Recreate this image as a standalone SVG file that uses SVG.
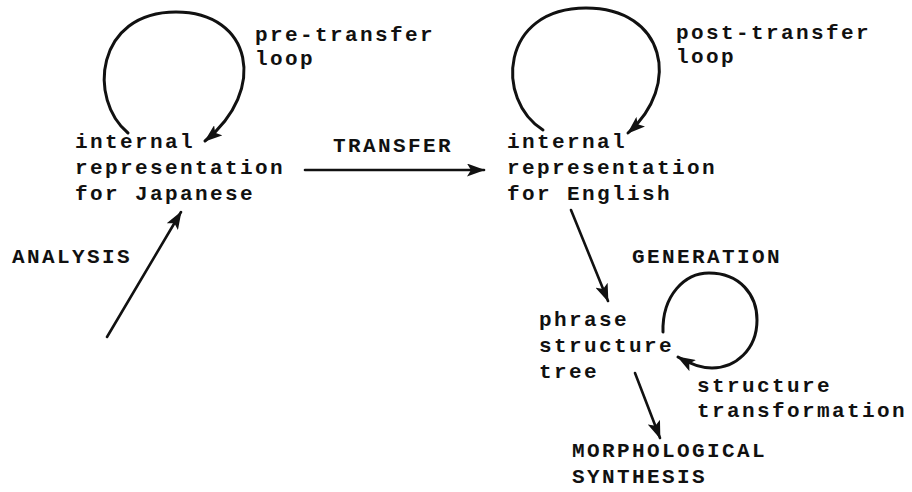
<svg xmlns="http://www.w3.org/2000/svg" width="912" height="492" viewBox="0 0 912 492">
  <style>
    text { font-family: "Liberation Mono", "DejaVu Sans Mono", monospace; font-weight: bold; font-size: 21px; letter-spacing: 2.4px; fill: #111; }
    .edge { fill: none; stroke: #111; stroke-width: 2.6; stroke-linecap: round; }
    .loop { stroke-width: 3; }
  </style>
  <defs>
    <marker id="head" markerUnits="userSpaceOnUse" viewBox="0 0 18 13" markerWidth="18" markerHeight="13" refX="17" refY="6.5" orient="auto">
      <path d="M0,0 L18,6.5 L0,13 L4,6.5 z" fill="#111"/>
    </marker>
  </defs>

  <rect width="912" height="492" fill="#fff"/>

  <!-- connectors -->
  <g id="connectors">
    <!-- pre-transfer loop on the Japanese representation -->
    <path class="edge loop" d="M128,133 C88,100 95,12 176,12 C252,12 268,90 205,141" marker-end="url(#head)"/>
    <!-- post-transfer loop on the English representation -->
    <path class="edge loop" d="M543,130 C495,100 500,8 586,8 C665,8 682,85 628,133" marker-end="url(#head)"/>
    <!-- transfer -->
    <path class="edge" d="M305,170 L484,170" marker-end="url(#head)"/>
    <!-- analysis -->
    <path class="edge" d="M107,337 L181,212" marker-end="url(#head)"/>
    <!-- generation: English representation to phrase structure tree -->
    <path class="edge" d="M571,210 L608,301" marker-end="url(#head)"/>
    <!-- structure transformation loop -->
    <path class="edge loop" d="M663,332 C662,295 685,273 709,273 C740,273 757,295 757,320 C757,350 735,368 712,368 C700,368 690,364 678,357" marker-end="url(#head)"/>
    <!-- morphological synthesis -->
    <path class="edge" d="M635,373 L660,438" marker-end="url(#head)"/>
  </g>

  <!-- nodes -->
  <g id="node-japanese">
    <text x="75" y="148">internal<tspan x="75" y="174">representation</tspan><tspan x="75" y="200">for Japanese</tspan></text>
  </g>
  <g id="node-english">
    <text x="507" y="148">internal<tspan x="507" y="174">representation</tspan><tspan x="507" y="200">for English</tspan></text>
  </g>
  <g id="node-phrase-tree">
    <text x="539" y="326">phrase<tspan x="539" y="352">structure</tspan><tspan x="539" y="378">tree</tspan></text>
  </g>
  <g id="node-morphology">
    <text x="572" y="457">MORPHOLOGICAL<tspan x="572" y="483">SYNTHESIS</tspan></text>
  </g>

  <!-- connector labels -->
  <g id="labels">
    <text x="255" y="41">pre-transfer<tspan x="255" y="65">loop</tspan></text>
    <text x="676" y="39">post-transfer<tspan x="676" y="63">loop</tspan></text>
    <text x="333" y="152">TRANSFER</text>
    <text x="12" y="263">ANALYSIS</text>
    <text x="632" y="263">GENERATION</text>
    <text x="697" y="392">structure<tspan x="697" y="417">transformation</tspan></text>
  </g>
</svg>
